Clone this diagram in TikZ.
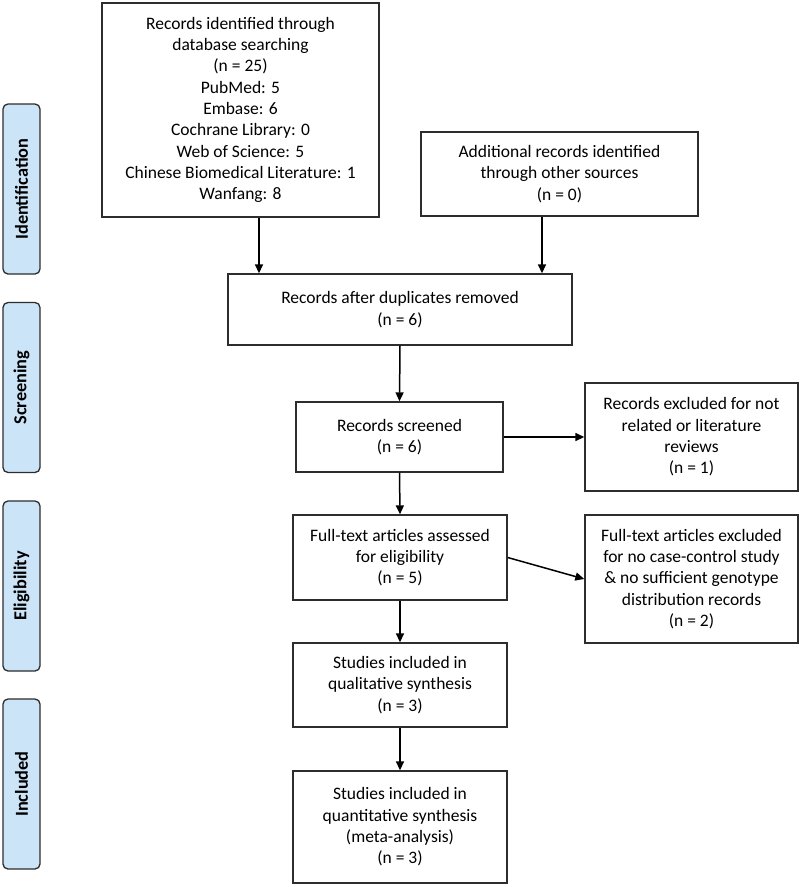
\documentclass[tikz,border=0pt]{standalone}
\usepackage{fontspec}
\setmainfont{Carlito}
\usetikzlibrary{arrows.meta,calc}
\definecolor{sidefill}{RGB}{204,228,247}
\definecolor{linec}{RGB}{45,45,45}
\begin{document}
\begin{tikzpicture}[x=1pt,y=-1pt,
  box/.style={draw=linec,line width=1.4pt,fill=white,rectangle,align=center,inner sep=2pt,
    font=\fontsize{17.5}{21.3}\selectfont},
  side/.style={draw=linec,line width=1.3pt,fill=sidefill,rounded corners=5pt,rotate=90,
    minimum width=170pt,minimum height=37pt,inner sep=0pt,font=\bfseries\fontsize{18.3}{20}\selectfont},
  arr/.style={draw=black,line width=1.5pt,-{Triangle[length=9pt,width=8pt]}}]
\useasboundingbox (0,0) rectangle (800,887);
\fill[white] (0,0) rectangle (800,887);

% side labels
\node[side] (s1) at (21.5,189) {Identification};
\node[side] (s2) at (21.5,387.5) {Screening};
\node[side] (s3) at (21.5,586) {Eligibility};
\node[side] (s4) at (21.5,784) {Included};

% boxes
\node[box,minimum width=277pt,minimum height=214pt] (b1) at (240.5,110)
  {Records identified through\\database searching\\(n = 25)\\PubMed: 5\\Embase: 6\\Cochrane Library: 0\\Web of Science: 5\\Chinese Biomedical Literature: 1\\Wanfang: 8};
\node[box,minimum width=277pt,minimum height=84pt] (b2) at (559.5,174)
  {Additional records identified\\through other sources\\(n = 0)};
\node[box,minimum width=344pt,minimum height=71pt] (b3) at (400,309.5)
  {Records after duplicates removed\\(n = 6)};
\node[box,minimum width=207pt,minimum height=70pt] (b4) at (399.5,437)
  {Records screened\\(n = 6)};
\node[box,minimum width=213pt,minimum height=108pt] (b5) at (691.5,437)
  {Records excluded for not\\related or literature\\reviews\\(n = 1)};
\node[box,minimum width=214pt,minimum height=85pt] (b6) at (400,557.5)
  {Full-text articles assessed\\for eligibility\\(n = 5)};
\node[box,minimum width=213pt,minimum height=128pt] (b7) at (691.5,579)
  {Full-text articles excluded\\for no case-control study\\\& no sufficient genotype\\distribution records\\(n = 2)};
\node[box,minimum width=214pt,minimum height=84pt] (b8) at (400,685)
  {Studies included in\\qualitative synthesis\\(n = 3)};
\node[box,minimum width=214pt,minimum height=112pt] (b9) at (400,827)
  {Studies included in\\quantitative synthesis\\(meta-analysis)\\(n = 3)};

% connectors
\coordinate (xa) at (259,0);
\coordinate (xb) at (542,0);
\draw[arr] (b1.south -| xa) -- (b3.north -| xa);
\draw[arr] (b2.south -| xb) -- (b3.north -| xb);
\draw[arr] (b3.south) -- (b4.north);
\draw[arr] (b4.east) -- (b5.west);
\draw[arr] (b4.south) -- (b6.north);
\draw[arr] (b6.east) -- (b7.west);
\draw[arr] (b6.south) -- (b8.north);
\draw[arr] (b8.south) -- (b9.north);
\end{tikzpicture}
\end{document}
